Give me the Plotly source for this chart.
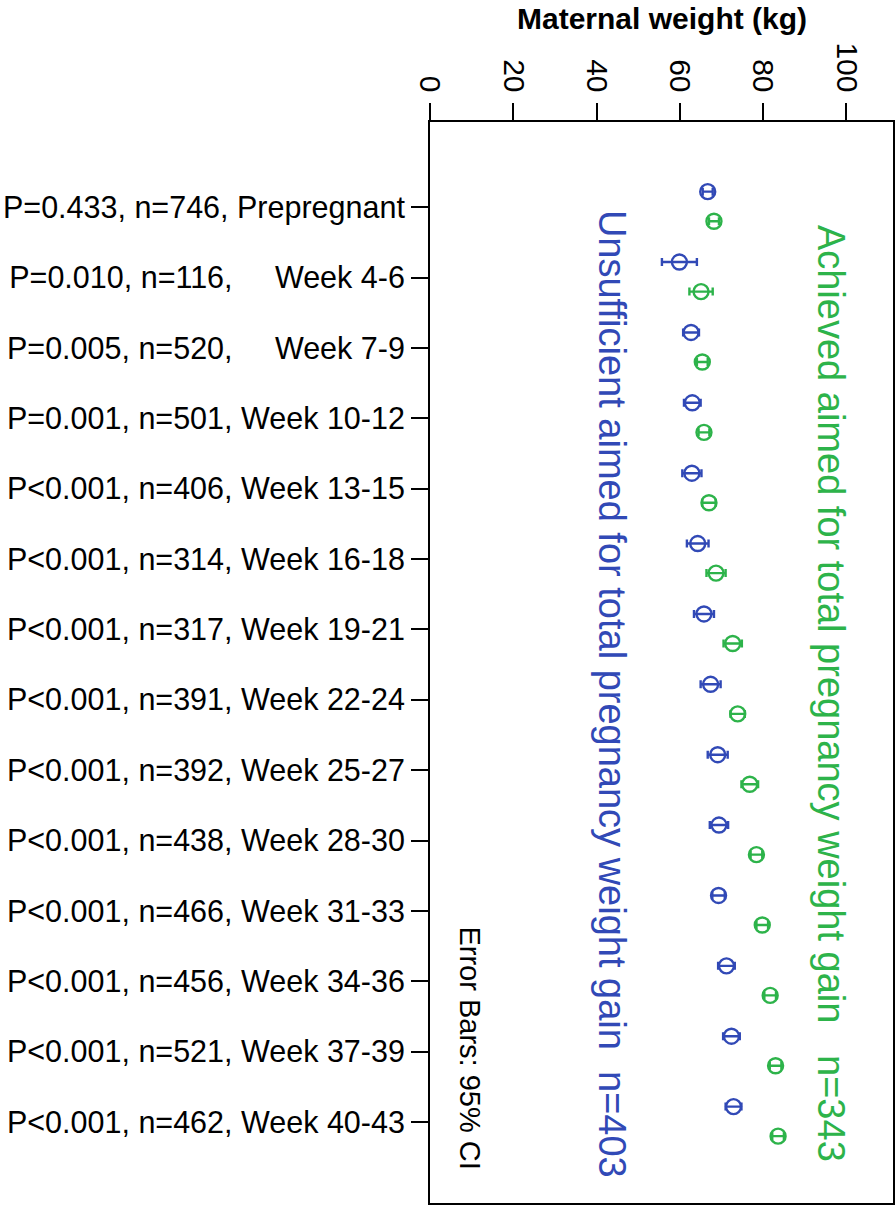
import plotly.graph_objects as go

NB = "\u00a0"
p_values = ["P=0.433", "P=0.010", "P=0.005", "P=0.001", "P<0.001", "P<0.001", "P<0.001",
            "P<0.001", "P<0.001", "P<0.001", "P<0.001", "P<0.001", "P<0.001", "P<0.001"]
n_values = ["746", "116", "520", "501", "406", "314", "317", "391", "392", "438", "466", "456", "521", "462"]
periods = ["Prepregnant", "Week 4-6", "Week 7-9", "Week 10-12", "Week 13-15", "Week 16-18",
           "Week 19-21", "Week 22-24", "Week 25-27", "Week 28-30", "Week 31-33", "Week 34-36",
           "Week 37-39", "Week 40-43"]

insufficient_mean = [66.7, 59.9, 62.7, 63.0, 62.9, 64.3, 65.8, 67.4, 69.1, 69.4, 69.3, 71.2, 72.4, 72.9]
insufficient_ci = [1.2, 4.2, 1.9, 2.0, 2.3, 2.6, 2.4, 2.4, 2.4, 2.2, 1.5, 2.0, 2.0, 1.9]
achieved_mean = [68.2, 65.1, 65.4, 65.8, 67.0, 68.7, 72.7, 73.9, 76.8, 78.4, 79.8, 81.7, 83.0, 83.6]
achieved_ci = [1.2, 2.8, 1.3, 1.3, 1.6, 2.3, 2.2, 1.7, 2.0, 1.4, 1.4, 1.4, 1.4, 1.4]

x_ticks = [0, 20, 40, 60, 80, 100]

BLUE = "#3149b6"
GREEN = "#2db34a"
FONT = "Liberation Sans, Arial, sans-serif"


def make_label(p, n, per):
    sep = " "
    if per in ("Week 4-6", "Week 7-9"):
        sep = NB * 4 + " "
    return f"{p}, n={n},{sep}{per}"


labels = [make_label(p, n, per) for p, n, per in zip(p_values, n_values, periods)]
idx = list(range(len(periods)))

fig = go.Figure()
fig.add_trace(go.Scatter(
    x=insufficient_mean, y=[i - 0.22 for i in idx], mode="markers",
    marker=dict(symbol="circle-open", size=15, color=BLUE, line=dict(width=2.4, color=BLUE)),
    error_x=dict(type="data", array=insufficient_ci, visible=True, color=BLUE, thickness=2.4, width=4),
    showlegend=False, cliponaxis=False,
))
fig.add_trace(go.Scatter(
    x=achieved_mean, y=[i + 0.2 for i in idx], mode="markers",
    marker=dict(symbol="circle-open", size=15, color=GREEN, line=dict(width=2.4, color=GREEN)),
    error_x=dict(type="data", array=achieved_ci, visible=True, color=GREEN, thickness=2.4, width=4),
    showlegend=False, cliponaxis=False,
))

fig.add_annotation(text="<b>Maternal weight (kg)</b>", xref="paper", yref="paper", x=0.5,
                   y=1 + 121.0 / 1081, showarrow=False,
                   font=dict(size=30, color="black", family=FONT),
                   xanchor="center", yanchor="top", borderpad=0)
fig.add_annotation(text="Achieved aimed for total pregnancy weight gain" + NB * 2 + " n=343",
                   xref="x", yref="paper", x=96.3, y=0.471, textangle=90, showarrow=False,
                   font=dict(size=38, color=GREEN, family=FONT), xanchor="center", yanchor="middle")
fig.add_annotation(text="Unsufficient aimed for total pregnancy weight gain" + NB + " n=403",
                   xref="x", yref="paper", x=43.7, y=0.471, textangle=90, showarrow=False,
                   font=dict(size=38, color=BLUE, family=FONT), xanchor="center", yanchor="middle")
fig.add_annotation(text="Error Bars: 95% CI", xref="x", yref="paper", x=9.6, y=0.143,
                   textangle=90, showarrow=False, font=dict(size=29, color="black", family=FONT),
                   xanchor="center", yanchor="middle")

fig.update_xaxes(side="top", range=[0, 111.2], tickvals=x_ticks, ticktext=[str(v) for v in x_ticks],
                 tickangle=90, ticks="outside", ticklen=17, tickwidth=2, tickcolor="black",
                 showline=True, linewidth=2, linecolor="black", mirror=True, showgrid=False,
                 zeroline=False, automargin=False, tickfont=dict(size=30, color="black", family=FONT))
fig.update_yaxes(range=[14.15, -1.21], tickvals=idx, ticktext=labels, ticks="outside", ticklen=17,
                 tickwidth=2, tickcolor="black", showline=True, linewidth=2, linecolor="black",
                 mirror=True, showgrid=False, zeroline=False, automargin=False,
                 tickfont=dict(size=30.5, color="black", family=FONT))

fig.update_layout(width=895, height=1205, margin=dict(l=430, r=2, t=122, b=2, autoexpand=False),
                  plot_bgcolor="white", paper_bgcolor="white", font=dict(family=FONT))

fig.write_html("out.html", config={"displayModeBar": False},
               post_script="document.body.style.margin='0px';")
